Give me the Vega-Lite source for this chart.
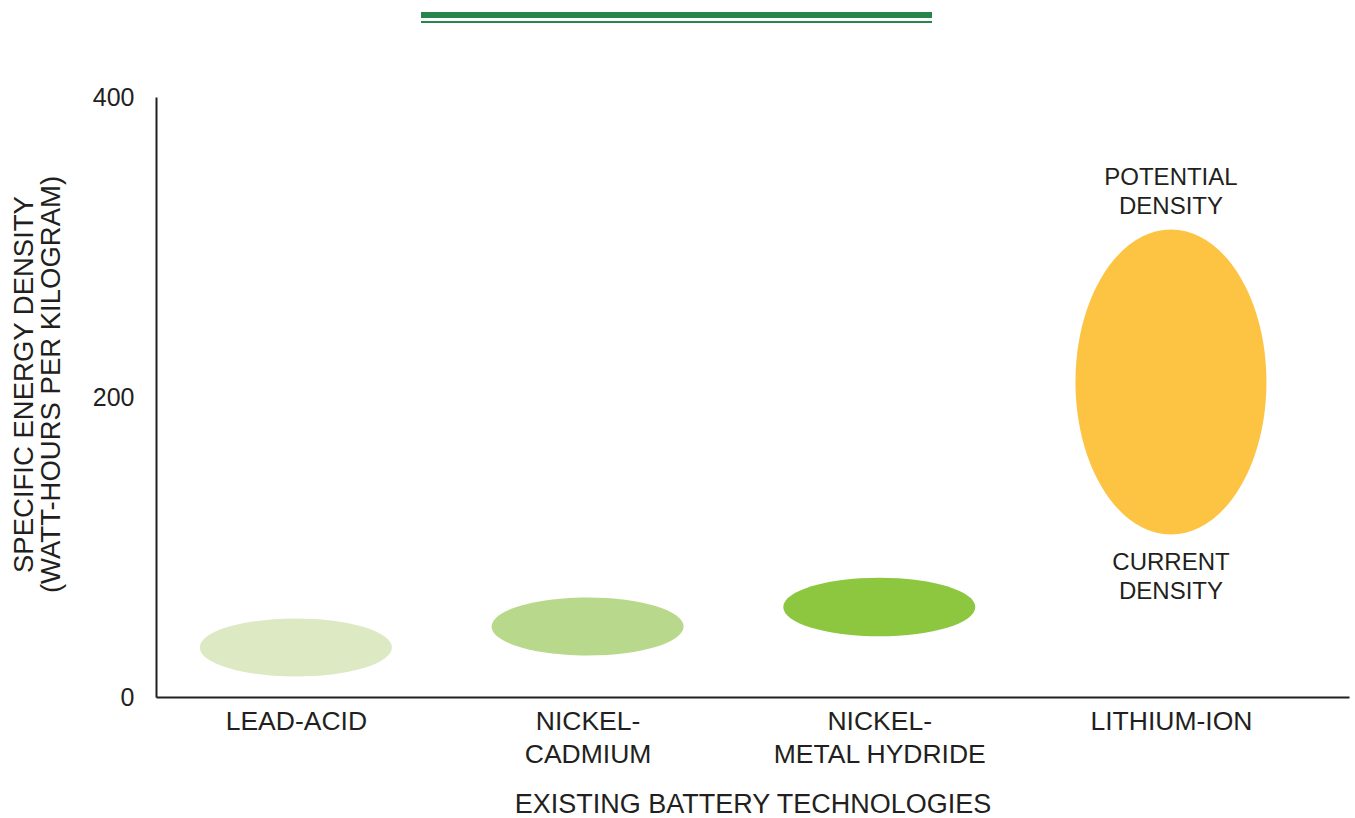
{
  "$schema": "https://vega.github.io/schema/vega-lite/v6.json",
  "padding": {"left": 10, "top": 12, "right": 2, "bottom": 2},
  "background": "white",
  "config": {
    "font": "Liberation Sans",
    "view": {"stroke": null},
    "axis": {
      "labelColor": "#231f20",
      "titleColor": "#231f20",
      "domainColor": "#231f20",
      "domainWidth": 2,
      "labelFontSize": 25,
      "titleFontSize": 27,
      "titleFontWeight": "normal",
      "labelLimit": 0,
      "ticks": false,
      "grid": false
    }
  },
  "spacing": 62,
  "vconcat": [
    {
      "spacing": 3,
      "vconcat": [
        {
          "spacing": 0,
          "hconcat": [
            {"width": 265, "height": 6, "data": {"values": []}, "mark": "point"},
            {"width": 511, "height": 6, "data": {"values": []}, "mark": "point", "view": {"fill": "#25854a", "stroke": null}}
          ]
        },
        {
          "spacing": 0,
          "hconcat": [
            {"width": 265, "height": 2, "data": {"values": []}, "mark": "point"},
            {"width": 511, "height": 2, "data": {"values": []}, "mark": "point", "view": {"fill": "#25854a", "stroke": null}}
          ]
        }
      ]
    },
    {
      "width": 1193,
      "height": 600,
      "encoding": {
        "x": {
          "field": "technology",
          "type": "nominal",
          "scale": {
            "type": "point",
            "domain": ["LEAD-ACID", "NICKEL-CADMIUM", "NICKEL-METAL HYDRIDE", "LITHIUM-ION"],
            "padding": 0.545,
            "align": 0.44
          },
          "axis": {
            "title": "EXISTING BATTERY TECHNOLOGIES",
            "labelAngle": 0,
            "labelFontSize": 26.5,
            "labelPadding": 11,
            "labelLineHeight": 33,
            "titlePadding": 24,
            "labelExpr": "datum.value == 'NICKEL-CADMIUM' ? ['NICKEL-', 'CADMIUM'] : datum.value == 'NICKEL-METAL HYDRIDE' ? ['NICKEL-', 'METAL HYDRIDE'] : datum.label"
          }
        },
        "y": {
          "field": "density",
          "type": "quantitative",
          "scale": {"domain": [0, 400], "nice": false, "zero": true},
          "axis": {
            "title": ["SPECIFIC ENERGY DENSITY", "(WATT-HOURS PER KILOGRAM)"],
            "titleFontSize": 27.5,
            "values": [0, 200, 400],
            "labelPadding": 22,
            "titlePadding": 27,
            "titleLineHeight": 27,
            "titleY": 287
          }
        }
      },
      "layer": [
        {
          "data": {
            "values": [
              {"technology": "LEAD-ACID", "density": 33},
              {"technology": "NICKEL-CADMIUM", "density": 47},
              {"technology": "NICKEL-METAL HYDRIDE", "density": 60},
              {"technology": "LITHIUM-ION", "density": 210}
            ]
          },
          "mark": {"type": "point", "filled": true, "opacity": 1, "strokeWidth": 0, "size": 4},
          "encoding": {
            "shape": {
              "field": "technology",
              "type": "nominal",
              "legend": null,
              "scale": {
                "domain": ["LEAD-ACID", "NICKEL-CADMIUM", "NICKEL-METAL HYDRIDE", "LITHIUM-ION"],
                "range": [
                  "M -96 0 C -96 -16 -53 -29 0 -29 C 53 -29 96 -16 96 0 C 96 16 53 29 0 29 C -53 29 -96 16 -96 0 Z",
                  "M -96 0 C -96 -16 -53 -29 0 -29 C 53 -29 96 -16 96 0 C 96 16 53 29 0 29 C -53 29 -96 16 -96 0 Z",
                  "M -96 0 C -96 -16.2 -53 -29.3 0 -29.3 C 53 -29.3 96 -16.2 96 0 C 96 16.2 53 29.3 0 29.3 C -53 29.3 -96 16.2 -96 0 Z",
                  "M -95.5 0 C -95.5 -84.2 -52.7 -152.5 0 -152.5 C 52.7 -152.5 95.5 -84.2 95.5 0 C 95.5 84.2 52.7 152.5 0 152.5 C -52.7 152.5 -95.5 84.2 -95.5 0 Z"
                ]
              }
            },
            "color": {
              "field": "technology",
              "type": "nominal",
              "legend": null,
              "scale": {
                "domain": ["LEAD-ACID", "NICKEL-CADMIUM", "NICKEL-METAL HYDRIDE", "LITHIUM-ION"],
                "range": ["#dce9c2", "#b8d88b", "#8dc63f", "#fcc442"]
              }
            }
          }
        },
        {
          "data": {"values": [{"technology": "LITHIUM-ION", "density": 311, "note": "POTENTIAL\nDENSITY"}]},
          "mark": {"type": "text", "fontSize": 24, "lineBreak": "\n", "lineHeight": 29, "baseline": "top", "dy": -65, "color": "#231f20"},
          "encoding": {"text": {"field": "note"}}
        },
        {
          "data": {"values": [{"technology": "LITHIUM-ION", "density": 108, "note": "CURRENT\nDENSITY"}]},
          "mark": {"type": "text", "fontSize": 24, "lineBreak": "\n", "lineHeight": 29, "baseline": "top", "dy": 16, "color": "#231f20"},
          "encoding": {"text": {"field": "note"}}
        }
      ]
    }
  ]
}
